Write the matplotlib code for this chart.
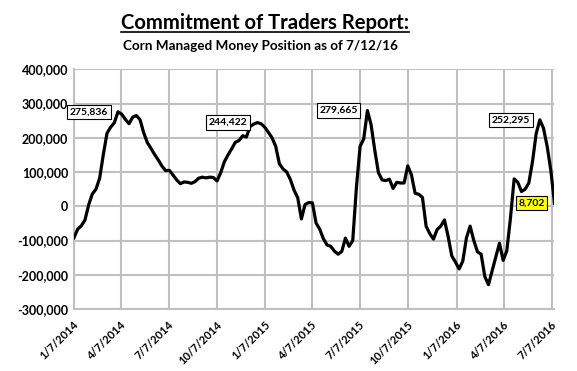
import matplotlib
matplotlib.use('Agg')
import matplotlib.pyplot as plt
import matplotlib.transforms as mtransforms
from matplotlib.lines import Line2D
from matplotlib.ticker import FuncFormatter
import pandas as pd

# weekly COT report dates, first and last report
first_report = '2014-01-07'
last_report = '2016-07-12'

# managed money net position (contracts)
net_position = [
    -92000, -67000, -57000, -40000, 4000, 36000, 50000, 82000, 151000, 213000,
    231000, 244000, 275836, 269000, 254000, 241000, 260000, 265000, 253000, 215000,
    186000, 169000, 151000, 135000, 117000, 104000, 105000, 91000, 77000, 66000,
    71000, 70000, 67000, 72000, 82000, 85000, 83000, 85000, 84000, 74000,
    98000, 130000, 150000, 168000, 187000, 192000, 206000, 202000, 233000, 240000,
    244422, 241000, 231000, 216000, 200000, 175000, 124000, 109000, 100000, 78000,
    47000, 25000, -37000, 5000, 11000, 10000, -49000, -67000, -95000, -113000,
    -117000, -131000, -140000, -132000, -93000, -117000, -100000, 55000, 175000, 197000,
    279665, 238000, 164000, 98000, 77000, 75000, 79000, 52000, 70000, 68000,
    68000, 118000, 92000, 38000, 35000, 26000, -58000, -80000, -96000, -68000,
    -58000, -40000, -88000, -145000, -163000, -183000, -160000, -92000, -58000, -100000,
    -133000, -140000, -205000, -229000, -188000, -148000, -108000, -158000, -130000, -34000,
    80000, 70000, 43000, 50000, 68000, 130000, 212000, 252295, 228000, 175000,
    105000, 8702,
]

tick_dates = ['1/7/2014', '4/7/2014', '7/7/2014', '10/7/2014', '1/7/2015', '4/7/2015',
              '7/7/2015', '10/7/2015', '1/7/2016', '4/7/2016', '7/7/2016']
y_ticks = [-300000, -200000, -100000, 0, 100000, 200000, 300000, 400000]

peak_labels = [12, 50, 80, 127]   # indices of labelled peaks
last_label = len(net_position) - 1

FONT = ['Lato', 'DejaVu Sans']
plt.rcParams['font.family'] = FONT


def main():
    dates = pd.date_range(first_report, last_report, freq='7D')

    fig = plt.figure(figsize=(5.77, 3.71), dpi=100)
    ax = fig.add_axes([0.1282, 0.1671, 0.8328, 0.6461])

    grid_col = '#c0c0c0'
    ax.plot(dates, net_position, color='black', lw=2.3, solid_joinstyle='round', zorder=3)

    ax.set_xlim(dates[0], dates[-1])
    ax.set_ylim(-300000, 400000)
    ax.set_yticks(y_ticks)
    ax.yaxis.set_major_formatter(FuncFormatter(lambda v, p: f'{int(v):,}'))
    ax.set_xticks(pd.to_datetime(tick_dates, format='%m/%d/%Y'))
    ax.set_xticklabels(tick_dates)

    ax.grid(True, color=grid_col, lw=1.5)
    ax.set_axisbelow(True)
    for side in ['top', 'right']:
        ax.spines[side].set_visible(False)
    for side in ['left', 'bottom']:
        ax.spines[side].set_color(grid_col)
        ax.spines[side].set_linewidth(1.5)
    ax.tick_params(axis='y', length=0, pad=4)
    ax.tick_params(axis='x', length=0, pad=10)

    for lab in ax.get_yticklabels():
        lab.set_fontsize(9)
        lab.set_fontweight('bold')
    # rotated date labels, nudged a little right like Excel does
    shift = mtransforms.ScaledTranslation(3 / 100, 0, fig.dpi_scale_trans)
    for lab in ax.get_xticklabels():
        lab.set_fontsize(8)
        lab.set_fontweight('bold')
        lab.set_rotation(45)
        lab.set_ha('right')
        lab.set_va('center')
        lab.set_rotation_mode('anchor')
        lab.set_transform(lab.get_transform() + shift)

    # data labels, all to the left of the point
    for i in peak_labels + [last_label]:
        face = 'yellow' if i == last_label else 'white'
        ax.annotate(f'{net_position[i]:,}', (dates[i], net_position[i]),
                    xytext=(-7, 0), textcoords='offset points',
                    ha='right', va='center', fontsize=7.5, fontweight='bold',
                    bbox=dict(boxstyle='square,pad=0.25', fc=face, ec='black', lw=0.8),
                    zorder=4)

    title = fig.text(0.459, 0.938, 'Commitment of Traders Report:', ha='center', va='center',
                     fontsize=14.6, fontweight='bold')
    fig.text(0.451, 0.877, 'Corn Managed Money Position as of 7/12/16', ha='center',
             va='center', fontsize=9.7, fontweight='bold')

    # underline the main title
    fig.canvas.draw()
    bb = title.get_window_extent().transformed(fig.transFigure.inverted())
    fig.add_artist(Line2D([bb.x0, bb.x1], [bb.y0 + 0.004, bb.y0 + 0.004],
                          color='black', lw=1.2, transform=fig.transFigure))

    fig.savefig('out.png', dpi=100)
    plt.close(fig)


if __name__ == '__main__':
    main()
